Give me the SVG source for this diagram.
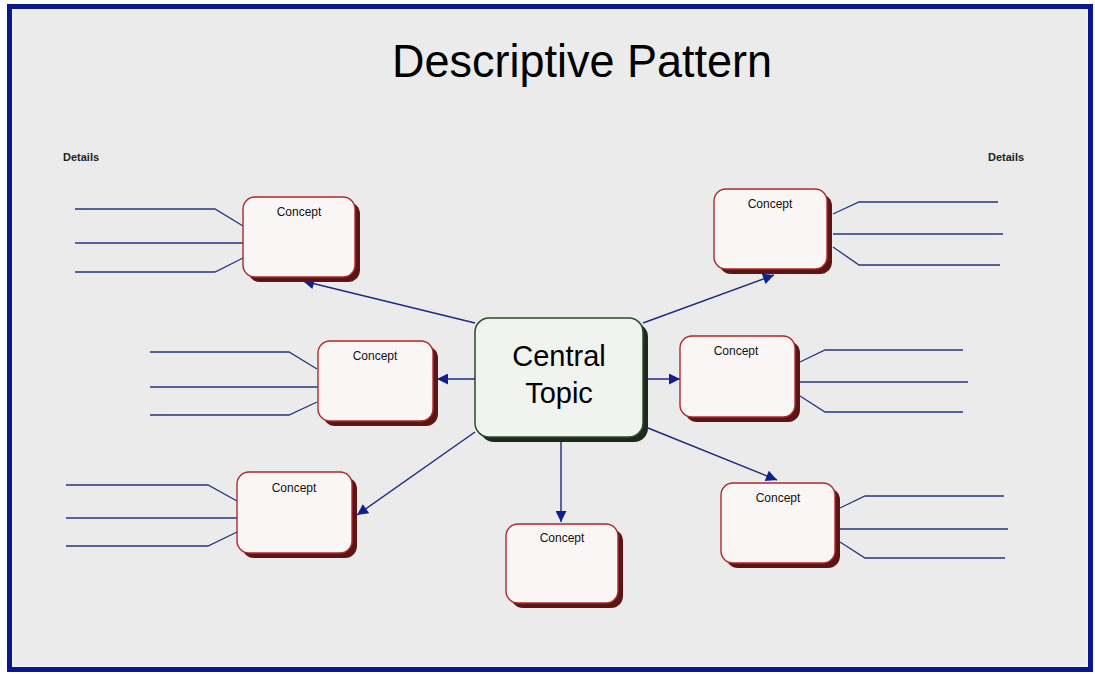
<svg xmlns="http://www.w3.org/2000/svg" width="1095" height="675" viewBox="0 0 1095 675">
  <style>
    .concept { fill: #faf6f6; stroke: #b02a2a; stroke-width: 1.4; }
    .shadow { fill: #5a1616; }
    .label { font-family: "Liberation Sans", Arial, sans-serif; font-size: 12px; fill: #111; text-anchor: middle; }
    .detail { fill: none; stroke: #27357e; stroke-width: 1.3; }
    .link { fill: none; stroke: #1c2a82; stroke-width: 1.4; }
    .hdr { font-family: "Liberation Sans", Arial, sans-serif; font-size: 11px; font-weight: bold; fill: #222; }
  </style>
  <defs>
    <marker id="arrow" viewBox="0 0 10 10" refX="10" refY="5" markerWidth="19" markerHeight="11" orient="auto" markerUnits="userSpaceOnUse">
      <path d="M0,0 L10,5 L0,10 Z" fill="#10208a"/>
    </marker>
  </defs>

  <!-- page and frame -->
  <rect x="0" y="0" width="1095" height="675" fill="#ffffff"/>
  <rect x="9.5" y="6.5" width="1081" height="663" fill="#ebebeb" stroke="#0a1890" stroke-width="5"/>
  <rect x="13" y="10" width="1074" height="656" fill="none" stroke="#f6f6f6" stroke-width="1"/>

  <text x="392" y="77" font-family="Liberation Sans, Arial, sans-serif" font-size="46" fill="#000" textLength="380" lengthAdjust="spacingAndGlyphs">Descriptive Pattern</text>
  <text class="hdr" x="63" y="161">Details</text>
  <text class="hdr" x="988" y="161">Details</text>

  <!-- connectors -->
  <g id="connectors">
    <line class="link" x1="475" y1="323" x2="303" y2="281" marker-end="url(#arrow)"/>
    <line class="link" x1="643" y1="323" x2="774" y2="275" marker-end="url(#arrow)"/>
    <line class="link" x1="475" y1="379" x2="437" y2="379" marker-end="url(#arrow)"/>
    <line class="link" x1="643" y1="379" x2="680" y2="379" marker-end="url(#arrow)"/>
    <line class="link" x1="475" y1="432" x2="357" y2="515" marker-end="url(#arrow)"/>
    <line class="link" x1="561" y1="440" x2="561" y2="522" marker-end="url(#arrow)"/>
    <line class="link" x1="648" y1="428" x2="777" y2="480" marker-end="url(#arrow)"/>

    <!-- detail lines -->
    <polyline class="detail" points="75,209 215,209 243,226"/>
    <polyline class="detail" points="75,243 243,243"/>
    <polyline class="detail" points="75,272 215,272 243,258"/>

    <polyline class="detail" points="833,214 859,202 998,202"/>
    <polyline class="detail" points="833,234 1003,234"/>
    <polyline class="detail" points="833,247 859,265 1000,265"/>

    <polyline class="detail" points="150,352 289,352 317,369"/>
    <polyline class="detail" points="150,387 318,387"/>
    <polyline class="detail" points="150,415 289,415 317,402"/>

    <polyline class="detail" points="800,362 825,350 963,350"/>
    <polyline class="detail" points="800,382 968,382"/>
    <polyline class="detail" points="800,396 825,412 963,412"/>

    <polyline class="detail" points="66,485 208,485 237,501"/>
    <polyline class="detail" points="66,518 237,518"/>
    <polyline class="detail" points="66,546 208,546 237,532"/>

    <polyline class="detail" points="840,508 865,496 1004,496"/>
    <polyline class="detail" points="840,529 1008,529"/>
    <polyline class="detail" points="840,542 865,558 1005,558"/>
  </g>

  <!-- central topic -->
  <g id="central">
    <rect x="480" y="323" width="168" height="119" rx="14" fill="#1c2a1c"/>
    <rect x="475" y="318" width="168" height="119" rx="14" fill="#f0f3ee" stroke="#2c4a2c" stroke-width="1.5"/>
    <text x="559" y="366" font-family="Liberation Sans, Arial, sans-serif" font-size="29" fill="#000" text-anchor="middle">Central</text>
    <text x="559" y="403" font-family="Liberation Sans, Arial, sans-serif" font-size="29" fill="#000" text-anchor="middle">Topic</text>
  </g>

  <!-- concept nodes -->
  <g id="concept-top-left">
    <rect class="shadow" x="248" y="202" width="112" height="80" rx="12"/>
    <rect class="concept" x="243" y="197" width="112" height="80" rx="12"/>
    <text class="label" x="299" y="216">Concept</text>
  </g>
  <g id="concept-top-right">
    <rect class="shadow" x="719" y="194" width="113" height="80" rx="12"/>
    <rect class="concept" x="714" y="189" width="113" height="80" rx="12"/>
    <text class="label" x="770" y="208">Concept</text>
  </g>
  <g id="concept-mid-left">
    <rect class="shadow" x="323" y="346" width="115" height="80" rx="12"/>
    <rect class="concept" x="318" y="341" width="115" height="80" rx="12"/>
    <text class="label" x="375" y="360">Concept</text>
  </g>
  <g id="concept-mid-right">
    <rect class="shadow" x="685" y="341" width="115" height="81" rx="12"/>
    <rect class="concept" x="680" y="336" width="115" height="81" rx="12"/>
    <text class="label" x="736" y="355">Concept</text>
  </g>
  <g id="concept-bottom-left">
    <rect class="shadow" x="242" y="477" width="115" height="81" rx="12"/>
    <rect class="concept" x="237" y="472" width="115" height="81" rx="12"/>
    <text class="label" x="294" y="492">Concept</text>
  </g>
  <g id="concept-bottom-center">
    <rect class="shadow" x="511" y="529" width="112" height="79" rx="12"/>
    <rect class="concept" x="506" y="524" width="112" height="79" rx="12"/>
    <text class="label" x="562" y="542">Concept</text>
  </g>
  <g id="concept-bottom-right">
    <rect class="shadow" x="726" y="488" width="114" height="80" rx="12"/>
    <rect class="concept" x="721" y="483" width="114" height="80" rx="12"/>
    <text class="label" x="778" y="502">Concept</text>
  </g>
</svg>
